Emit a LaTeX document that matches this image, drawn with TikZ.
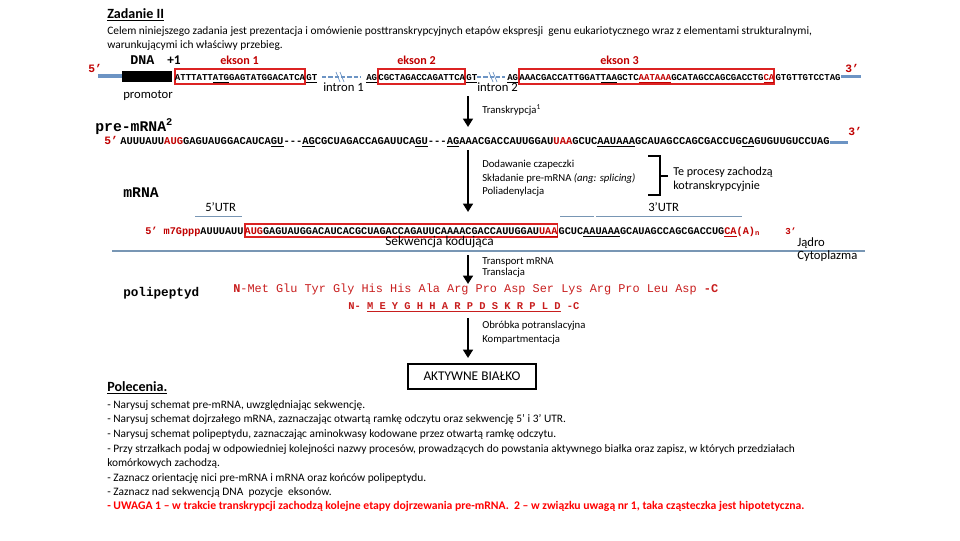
\documentclass[tikz,border=0pt]{standalone}
\usepackage{fontspec}
\setmainfont{Carlito}
\newfontfamily\seqfont{Liberation Mono}
\usetikzlibrary{arrows.meta,positioning}

\definecolor{exred}{RGB}{192,0,0}
\definecolor{boxred}{RGB}{220,35,35}
\definecolor{pepred}{RGB}{200,30,30}
\definecolor{endblue}{RGB}{108,148,196}
\definecolor{sepblue}{RGB}{120,150,180}

\newcommand{\und}[1]{\underline{#1}}
\newcommand{\rd}[1]{\textcolor{exred}{#1}}

\begin{document}
\begin{tikzpicture}[
    x=0.025cm, y=-0.025cm,
    >=Latex,
    txt/.style={anchor=base west, inner sep=0pt, font=\fontsize{8.1}{10}\selectfont},
    proc/.style={txt, font=\fontsize{7.6}{9}\selectfont},
    lbl/.style={txt, font=\fontsize{9}{11}\selectfont},
    head/.style={txt, font=\bfseries\fontsize{10}{12}\selectfont},
    ekson/.style={txt, text=exred, font=\bfseries\fontsize{8.6}{10}\selectfont},
    molname/.style={anchor=base west, inner sep=0pt, font=\seqfont\bfseries\fontsize{10.5}{12}\selectfont},
    prime/.style={anchor=base west, inner sep=0pt, text=exred, font=\seqfont\bfseries\fontsize{8}{10}\selectfont},
    seqdna/.style={anchor=base west, inner sep=0pt, font=\seqfont\bfseries\fontsize{6.43}{8}\selectfont},
    seqpre/.style={seqdna, font=\seqfont\bfseries\fontsize{7.44}{9}\selectfont},
    seqm/.style={seqdna, font=\seqfont\bfseries\fontsize{7.27}{9}\selectfont},
    pep/.style={anchor=base west, inner sep=0pt, text=pepred, font=\seqfont\fontsize{8.45}{10}\selectfont},
    exbox/.style={draw=boxred, line width=1.3pt, inner xsep=0pt, inner ysep=3pt, text height=5pt, text depth=0pt},
    flow/.style={-{Triangle[width=7pt,length=6pt]}, line width=2pt},
    endline/.style={endblue, line width=2.2pt},
    intron/.style={endblue, line width=1.4pt, dash pattern=on 3pt off 1.5pt},
    cut/.style={endblue, line width=0.5pt},
    utr/.style={sepblue, line width=0.6pt}
]
\useasboundingbox (0,0) rectangle (960,540);

% naglowek
\node[head] (title) at (107,18) {\underline{Zadanie II}};
\node[txt] (aim1) at (107,34) {Celem niniejszego zadania jest prezentacja i omówienie posttranskrypcyjnych etapów ekspresji\ \ genu eukariotycznego wraz z elementami strukturalnymi,};
\node[txt] (aim2) at (107,48) {warunkującymi ich właściwy przebieg.};

% DNA
\node[molname, font=\seqfont\bfseries\fontsize{9.5}{11}\selectfont] (dna) at (130,64) {DNA};
\node[txt, font=\bfseries\fontsize{9.5}{11}\selectfont] (plus1) at (167,64) {+1};
\node[ekson] (ek1) at (220,64) {ekson 1};
\node[ekson] (ek2) at (397,64) {ekson 2};
\node[ekson] (ek3) at (600,64) {ekson 3};
\node[prime] (dna5) at (88,72) {5’};
\node[prime] (dna3) at (845,72) {3’};
\coordinate (d5a) at (98,76);
\coordinate (d5b) at (122,76);
\draw[endline] (d5a) -- (d5b);
\fill (122,71) rectangle (172,82);
\node[lbl] (promotor) at (123,98) {promotor};

\node[seqdna, exbox] (ex1) at (174,80) {ATTTATT\und{ATG}GAGTATGGACATCA};
\node[seqdna] (gt1) at (ex1.base east) {\und{GT}};
\draw[intron] (322,77) -- (360,77);
\draw[cut] (336,72) -- (340,82) (340,72) -- (344,82);
\node[lbl] (intr1) at (323,91) {intron 1};

\node[seqdna] (ag2) at (366,80) {\und{AG}};
\node[seqdna, exbox] (ex2) at (ag2.base east) {CGCTAGACCAGATTCA};
\node[seqdna] (gt2) at (ex2.base east) {\und{GT}};
\draw[intron] (477,77) -- (505,77);
\draw[cut] (489,72) -- (493,82) (493,72) -- (497,82);
\node[lbl] (intr2) at (477,91) {intron 2};

\node[seqdna] (ag3) at (507,80) {\und{AG}};
\node[seqdna, exbox] (ex3) at (ag3.base east) {AAACGACCATTGGAT\und{TAA}GCTC\rd{\und{AATAAA}}GCATAGCCAGCGACCTG\rd{\und{CA}}};
\node[seqdna] (tail3) at (ex3.base east) {GTGTTGTCCTAG};
\draw[endline] ([yshift=2.8pt]tail3.base east) -- ++(20,0);

% transkrypcja
\coordinate (tr1a) at (468,96);
\coordinate (tr1b) at (468,127);
\draw[flow] (tr1a) -- (tr1b);
\node[proc] (transkr) at (482,113) {Transkrypcja\textsuperscript{1}};

% pre-mRNA
\node[molname] (pre) at (95,131) {pre-mRNA\textsuperscript{2}};
\node[prime] (pre5) at (104,144) {5’};
\node[seqpre] (preseq) at (120,144) {AUUUAUU\rd{AUG}GAGUAUGGACAUCA\und{GU}---\und{AG}CGCUAGACCAGAUUCA\und{GU}---\und{AG}AAACGACCAUUGGAU\rd{UAA}GCUC\und{AAUAAA}GCAUAGCCAGCGACCUG\und{CA}GUGUUGUCCUAG};
\draw[endline] ([yshift=0.8pt]preseq.base east) -- ++(18,0);
\node[prime] (pre3) at (848,135) {3’};

% dojrzewanie
\coordinate (tr2a) at (468,150);
\coordinate (tr2b) at (468,212);
\draw[flow] (tr2a) -- (tr2b);
\node[proc] (cap1) at (482,167) {Dodawanie czapeczki};
\node[proc] (splice) at (482,181) {Składanie pre-mRNA \textit{(ang: splicing)}};
\node[proc] (polya) at (482,194) {Poliadenylacja};
\draw[line width=1.5pt] (648,156) -- (660,156) -- (660,195) -- (648,195);
\draw[line width=1.5pt] (660,176) -- (668,176);
\node[lbl, font=\fontsize{8.6}{10}\selectfont] (kotr1) at (673,175) {Te procesy zachodzą};
\node[lbl, font=\fontsize{8.6}{10}\selectfont] (kotr2) at (673,189) {kotranskrypcyjnie};

% mRNA
\node[molname] (mrna) at (123,197) {mRNA};
\node[lbl] (utr5) at (205,211) {5’UTR};
\draw[utr] (195,216) -- (242,216);
\node[lbl] (utr3) at (648,211) {3’UTR};
\draw[utr] (560,216) -- (594,216);
\draw[utr] (596,216) -- (742,216);

\node[seqm] (capseq) at (145,234) {\rd{5’ m7Gppp}AUUUAUU};
\node[seqm, exbox, inner ysep=2pt] (cds) at (capseq.base east) {\rd{AUG}GAGUAUGGACAUCACGCUAGACCAGAUUCAAAACGACCAUUGGAU\rd{\und{UAA}}};
\node[seqm] (utr3seq) at (cds.base east) {GCUC\und{AAUAAA}GCAUAGCCAGCGACCUG\rd{\und{CA}}\rd{(A)\textsubscript{n}}};
\node[prime, font=\seqfont\bfseries\fontsize{6.5}{8}\selectfont] (m3) at (785,234) {3’};
\node[lbl, font=\fontsize{9.5}{11}\selectfont] (cdslbl) at (385,245) {Sekwencja kodująca};

% jadro / cytoplazma
\draw[sepblue, line width=0.8pt] (112,251) -- (865,251);
\node[lbl] (nucleus) at (797,246) {Jądro};
\node[lbl] (cyto) at (797,259) {Cytoplazma};

% translacja
\coordinate (tr3a) at (468,255);
\coordinate (tr3b) at (468,284);
\draw[flow] (tr3a) -- (tr3b);
\node[proc] (transp) at (482,264) {Transport mRNA};
\node[proc] (transl) at (482,275) {Translacja};

% polipeptyd
\node[molname, font=\seqfont\bfseries\fontsize{9}{11}\selectfont] (pp) at (123,296) {polipeptyd};
\node[pep] (aa3) at (233,292) {\textbf{N}-Met Glu Tyr Gly His His Ala Arg Pro Asp Ser Lys Arg Pro Leu Asp \textbf{-C}};
\node[pep, font=\seqfont\bfseries\fontsize{7.4}{9}\selectfont] (aa1) at (348,309) {N- \und{M E Y G H H A R P D S K R P L D} -C};

% obrobka
\coordinate (tr4a) at (468,318);
\coordinate (tr4b) at (468,358);
\draw[flow] (tr4a) -- (tr4b);
\node[proc] (obrobka) at (482,328) {Obróbka potranslacyjna};
\node[proc] (kompart) at (482,342) {Kompartmentacja};
\node[draw, line width=0.8pt, minimum width=3.2cm, minimum height=0.625cm, font=\fontsize{9.5}{11}\selectfont] (bialko) at (472,376.5) {AKTYWNE BIAŁKO};

% polecenia
\node[head] (polec) at (107,391) {\underline{Polecenia.}};
\node[txt] (p1) at (107,408) {- Narysuj schemat pre-mRNA, uwzględniając sekwencję.};
\node[txt] (p2) at (107,422) {- Narysuj schemat dojrzałego mRNA, zaznaczając otwartą ramkę odczytu oraz sekwencję 5’ i 3’ UTR.};
\node[txt] (p3) at (107,437) {- Narysuj schemat polipeptydu, zaznaczając aminokwasy kodowane przez otwartą ramkę odczytu.};
\node[txt] (p4) at (107,452) {- Przy strzałkach podaj w odpowiedniej kolejności nazwy procesów, prowadzących do powstania aktywnego białka oraz zapisz, w których przedziałach};
\node[txt] (p4b) at (107,466) {komórkowych zachodzą.};
\node[txt] (p5) at (107,481) {- Zaznacz orientację nici pre-mRNA i mRNA oraz końców polipeptydu.};
\node[txt] (p6) at (107,495) {- Zaznacz nad sekwencją DNA\ \ pozycje\ \ eksonów.};
\node[txt, text=red, font=\bfseries\fontsize{8.3}{10}\selectfont] (p7) at (107,509) {- UWAGA 1 – w trakcie transkrypcji zachodzą kolejne etapy dojrzewania pre-mRNA.\ \ 2 – w związku uwagą nr 1, taka cząsteczka jest hipotetyczna.};
\end{tikzpicture}
\end{document}
